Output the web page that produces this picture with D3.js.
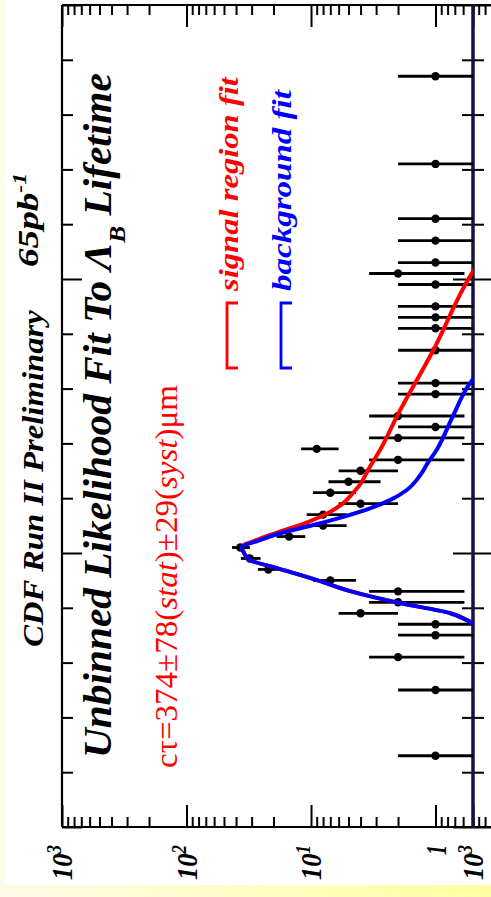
<!DOCTYPE html>
<html>
<head>
<meta charset="utf-8">
<script src="https://cdn.jsdelivr.net/npm/d3@7/dist/d3.min.js"></script>
<style>
  html, body { margin: 0; padding: 0; background: #ffffff; }
  svg { display: block; }
</style>
</head>
<body>
<svg id="chart" width="491" height="897"></svg>
<script>
// ---- axis definitions -------------------------------------------------
// decades of the event-count (log) axis and their labels
const decadeValues = [1000, 100, 10, 1];
const decadeBase   = ["10", "10", "10", "1"];
const decadeExp    = ["3", "2", "1", ""];
// proper decay length axis (cm): labelled major ticks
const ctMajorTicks = [-0.1, 0, 0.1, 0.2];

// ---- histogram of candidates: bin centre (cm) and events per bin ------
const binCt = [-0.074, -0.050, -0.038, -0.030, -0.026, -0.022, -0.018, -0.014,
               -0.010, -0.006, -0.002, 0.002, 0.006, 0.010, 0.014, 0.018,
               0.022, 0.026, 0.030, 0.034, 0.038, 0.042, 0.046, 0.050,
               0.058, 0.062, 0.074, 0.082, 0.086, 0.090, 0.098, 0.102,
               0.106, 0.114, 0.122, 0.142, 0.174];
const binN  = [1, 1, 2, 1, 1, 4, 2, 2,
               7, 22, 31, 37, 15, 8, 8, 4,
               7, 5, 4, 2, 9, 2, 1, 2,
               1, 1, 1, 1, 1, 1, 1, 2,
               1, 1, 1, 1, 1];

// ---- fit projections: ct (cm) and expected events ----------------------
const signalFitCt  = [-0.0270, -0.0245, -0.0219, -0.0183, -0.0142, -0.0099, -0.0055, -0.0026,
                      0.0000, 0.0020, 0.0055, 0.0084, 0.0113, 0.0146, 0.0182, 0.0219,
                      0.0255, 0.0303, 0.0339, 0.0376, 0.0497, 0.0741, 0.1015, 0.1060];
const signalFitVal = [0.45, 0.56, 0.77, 1.93, 4.6, 8.95, 18.8, 30.9,
                      34.5, 36.0, 24.8, 16.2, 10.6, 7.3, 5.5, 4.6,
                      3.97, 3.48, 3.12, 2.79, 2.05, 1.04, 0.52, 0.45];
const bkgFitCt  = [-0.0270, -0.0245, -0.0219, -0.0183, -0.0142, -0.0099, -0.0055, -0.0026,
                   0.0000, 0.0020, 0.0047, 0.0072, 0.0102, 0.0132, 0.0163, 0.0193,
                   0.0230, 0.0279, 0.0327, 0.0376, 0.0497, 0.0619, 0.0660];
const bkgFitVal = [0.45, 0.56, 0.77, 1.93, 4.6, 8.95, 18.8, 30.9,
                   34.5, 36.0, 25.7, 17.7, 9.6, 5.5, 3.36, 2.32,
                   1.70, 1.35, 1.16, 0.98, 0.73, 0.53, 0.45];

// ---- page -------------------------------------------------------------
const svg = d3.select("#chart");
const defs = svg.append("defs");
const band = defs.append("linearGradient").attr("id", "band")
  .attr("x1", 0).attr("x2", 1).attr("y1", 0).attr("y2", 0);
band.append("stop").attr("offset", 0).attr("stop-color", "#fdfbe6");
band.append("stop").attr("offset", 1).attr("stop-color", "#ffffa2");

svg.append("rect").attr("width", 491).attr("height", 897).attr("fill", "#fdfce9");
svg.append("rect").attr("x", 0).attr("y", 885).attr("width", 491).attr("height", 12).attr("fill", "url(#band)");
svg.append("rect").attr("x", 5).attr("y", 0).attr("width", 486).attr("height", 885).attr("fill", "#ffffff");

// plot is drawn rotated: counts run right-to-left, ct runs bottom-to-top
const P = { left: 62, right: 473, top: 5, bottom: 827 };
const yCt = d3.scaleLinear().domain([-0.1, 0.2]).range([P.bottom, P.top]);
const xN  = d3.scaleLog().domain([1000, 0.5]).range([P.left, P.right]);
// neighbouring panel that starts at the right edge
const xN2 = d3.scaleLog().domain([1000, 0.5]).range([P.right, P.right + (P.right - P.left)]);

defs.append("clipPath").attr("id", "plotClip").append("rect")
  .attr("x", P.left).attr("y", P.top).attr("width", P.right - P.left).attr("height", P.bottom - P.top);

// ---- axes -------------------------------------------------------------
function styleAxis(g) {
  g.select(".domain").remove();
  g.selectAll("line").attr("stroke", "#000").attr("stroke-width", 2);
}
function logAxes(scale) {
  const all = scale.ticks();
  const minor = all.filter(v => !decadeValues.includes(v));
  const major = all.filter(v => decadeValues.includes(v));
  [[d3.axisTop, P.bottom], [d3.axisBottom, P.top]].forEach(([mk, y]) => {
    svg.append("g").attr("transform", `translate(0,${y})`)
      .call(mk(scale).tickValues(minor).tickSize(10).tickFormat(""))
      .call(styleAxis);
    svg.append("g").attr("transform", `translate(0,${y})`)
      .call(mk(scale).tickValues(major).tickSize(22).tickFormat(""))
      .call(styleAxis);
  });
}
logAxes(xN);
logAxes(xN2);

const ctMinor = yCt.ticks(15).filter(v => !ctMajorTicks.some(m => Math.abs(m - v) < 1e-9));
[[d3.axisRight, P.left], [d3.axisLeft, P.right], [d3.axisRight, P.right]].forEach(([mk, x]) => {
  svg.append("g").attr("transform", `translate(${x},0)`)
    .call(mk(yCt).tickValues(ctMinor).tickSize(11).tickFormat(""))
    .call(styleAxis);
  svg.append("g").attr("transform", `translate(${x},0)`)
    .call(mk(yCt).tickValues(ctMajorTicks).tickSize(20).tickFormat(""))
    .call(styleAxis);
});

// frame
const frame = svg.append("g").attr("stroke", "#000").attr("stroke-width", 2.2).attr("fill", "none");
frame.append("line").attr("x1", P.left).attr("x2", 491).attr("y1", P.top).attr("y2", P.top);
frame.append("line").attr("x1", P.left).attr("x2", 491).attr("y1", P.bottom).attr("y2", P.bottom);
frame.append("line").attr("x1", P.left).attr("x2", P.left).attr("y1", P.top).attr("y2", P.bottom);
svg.append("line").attr("x1", P.right).attr("x2", P.right).attr("y1", P.top - 1).attr("y2", P.bottom + 1)
  .attr("stroke", "#17123f").attr("stroke-width", 3.5);

// ---- vertical text helper ---------------------------------------------
// parts: [{t, size, dy, italic}] ; text reads bottom-to-top
function vText(x, y, parts, o) {
  const t = svg.append("text")
    .attr("font-family", "'Liberation Serif', 'Times New Roman', serif")
    .attr("font-size", o.size)
    .attr("font-weight", o.bold ? "bold" : "normal")
    .attr("font-style", o.italic ? "italic" : "normal")
    .attr("fill", o.fill || "#000")
    .attr("text-anchor", o.anchor || "start");
  parts.forEach(p => {
    const s = t.append("tspan").text(p.t);
    if (p.size) s.attr("font-size", p.size);
    if (p.dy) s.attr("dy", p.dy);
    if (p.italic !== undefined) s.attr("font-style", p.italic ? "italic" : "normal");
  });
  let sx = 1;
  if (o.len) sx = o.len / t.node().getComputedTextLength();
  t.attr("transform", `translate(${x},${y}) rotate(-90) scale(${sx},1)`);
  return t;
}

// ---- tick labels --------------------------------------------------------
function decadeLabel(x, base, exp) {
  const parts = [{ t: base }];
  if (exp) parts.push({ t: exp, size: 20, dy: -11 });
  vText(x + 10, 845, parts, { size: 30, bold: true, italic: true, anchor: "end", len: exp ? 35 : 10 });
}
decadeValues.forEach((v, i) => decadeLabel(xN(v), decadeBase[i], decadeExp[i]));
decadeLabel(xN2(1000), "10", "3");

// ---- data: error bars and points -----------------------------------------
const bins = binCt.map((c, i) => ({ ct: c, n: binN[i] }));
const dataG = svg.append("g").attr("clip-path", "url(#plotClip)");
dataG.selectAll("line.err").data(bins).join("line").attr("class", "err")
  .attr("y1", d => yCt(d.ct)).attr("y2", d => yCt(d.ct))
  .attr("x1", d => xN(d.n + Math.sqrt(d.n)))
  .attr("x2", d => xN(Math.max(d.n - Math.sqrt(d.n), 0.3)))
  .attr("stroke", "#000").attr("stroke-width", 2.8);
dataG.selectAll("circle").data(bins).join("circle")
  .attr("cx", d => xN(d.n)).attr("cy", d => yCt(d.ct)).attr("r", 4.2).attr("fill", "#000");

// ---- fit curves ----------------------------------------------------------
const line = d3.line().x(d => xN(d.v)).y(d => yCt(d.ct)).curve(d3.curveMonotoneY);
const sig = signalFitCt.map((c, i) => ({ ct: c, v: signalFitVal[i] }));
const bkg = bkgFitCt.map((c, i) => ({ ct: c, v: bkgFitVal[i] }));
const curveG = svg.append("g").attr("clip-path", "url(#plotClip)").attr("fill", "none")
  .attr("stroke-width", 4).attr("stroke-linejoin", "round");
curveG.append("path").attr("d", line(sig)).attr("stroke", "#ff0000");
curveG.append("path").attr("d", line(bkg)).attr("stroke", "#0000ff");

// ---- titles and legend -----------------------------------------------------
vText(43, 647, [{ t: "CDF Run II Preliminary" }], { size: 30, bold: true, italic: true, len: 337 });
vText(38, 267, [{ t: "65pb" }, { t: "-1", size: 19, dy: -12 }], { size: 30, bold: true, italic: true, len: 94 });
vText(111, 758, [{ t: "Unbinned Likelihood Fit To \u039B" }, { t: "B", size: 24, dy: 14 }, { t: " Lifetime", dy: -14 }],
  { size: 39, bold: true, italic: true, len: 685 });
vText(177, 768, [{ t: "c\u03C4=374\u00B178(" }, { t: "stat", italic: true }, { t: ")\u00B129(" },
                 { t: "syst", italic: true }, { t: ")\u03BCm" }],
  { size: 31, fill: "#ff0000", len: 383 });

// legend: bracket marks and labels
const legend = [
  { x: 227, label: "signal region fit", color: "#ff0000", textX: 238, len: 214 },
  { x: 281, label: "background fit", color: "#0000ff", textX: 291, len: 201 }
];
legend.forEach(l => {
  svg.append("path")
    .attr("d", `M${l.x + 11},303 H${l.x} V368 H${l.x + 11}`)
    .attr("fill", "none").attr("stroke", l.color).attr("stroke-width", 2.8);
  vText(l.textX, 291, [{ t: l.label }], { size: 28, bold: true, italic: true, fill: l.color, len: l.len });
});
</script>
</body>
</html>
